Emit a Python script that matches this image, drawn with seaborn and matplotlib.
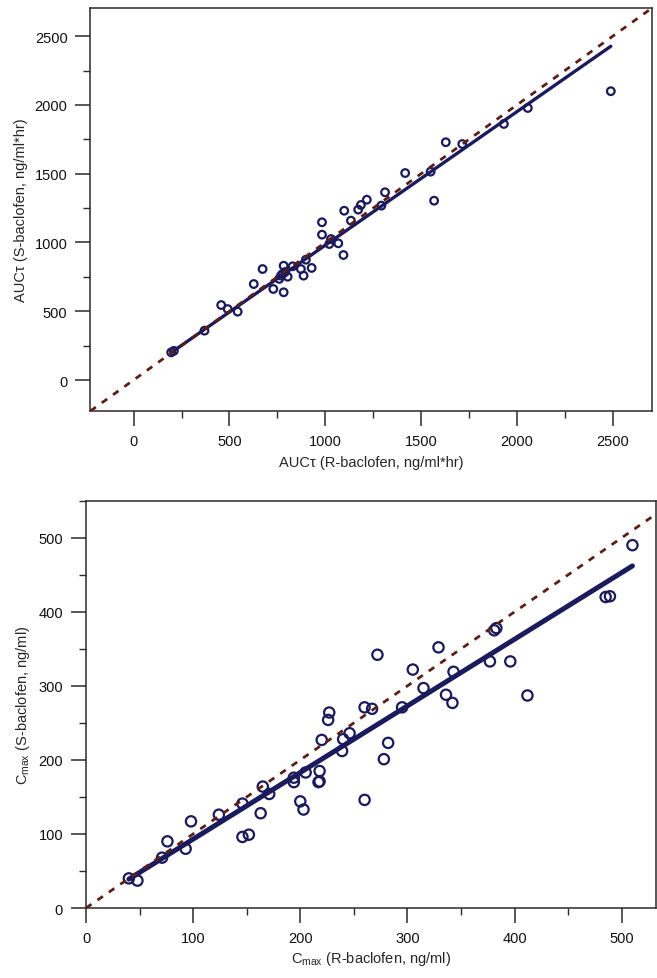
import numpy as np
import pandas as pd
import matplotlib
matplotlib.use("Agg")
import matplotlib.pyplot as plt
import seaborn as sns
from matplotlib.ticker import MultipleLocator

sns.set_theme(style="white")
plt.rcParams["font.family"] = ["Liberation Sans", "DejaVu Sans"]

# AUC over the dosing interval, R- vs S-baclofen (ng/ml*hr)
auc_r = [196, 210, 370, 457, 491, 543, 627, 673, 729, 760, 769, 778, 790,
         783, 804, 830, 873, 887, 899, 929, 783, 983, 983, 1021, 1030, 1068,
         1095, 1099, 1134, 1172, 1186, 1217, 1293, 1312, 1417, 1550, 1568,
         1629, 1715, 1932, 2057, 2490]
auc_s = [201, 212, 359, 545, 516, 497, 698, 807, 662, 735, 759, 772, 785,
         831, 751, 827, 807, 759, 875, 815, 638, 1147, 1057, 989, 1025, 994,
         909, 1231, 1159, 1239, 1273, 1311, 1268, 1365, 1505, 1515, 1304,
         1729, 1716, 1862, 1978, 2100]
# fitted regression line: slope, intercept
auc_fit = (0.971, 9.0)

# Peak concentration, R- vs S-baclofen (ng/ml)
cmax_r = [40, 48, 71, 76, 93, 98, 124, 146, 152, 146, 163, 165, 171, 194,
          194, 205, 200, 203, 217, 218, 218, 220, 226, 227, 239, 240, 246,
          260, 267, 260, 272, 278, 282, 295, 305, 315, 329, 336, 342, 343,
          377, 381, 383, 396, 412, 485, 489, 510]
cmax_s = [40, 37, 68, 90, 80, 117, 126, 96, 99, 141, 128, 164, 154, 170,
          176, 183, 144, 133, 170, 185, 171, 227, 254, 264, 212, 228, 236,
          271, 269, 146, 342, 201, 223, 271, 322, 297, 352, 288, 277, 319,
          333, 375, 378, 333, 287, 420, 421, 490]
cmax_fit = (0.90, 3.0)

auc = pd.DataFrame({"r": auc_r, "s": auc_s})
cmax = pd.DataFrame({"r": cmax_r, "s": cmax_s})

NAVY = "#1b1a5c"
BROWN = "#5c1f18"
FRAME = "#2a2a2a"

fig = plt.figure(figsize=(6.57, 9.79), dpi=100)
ax1 = fig.add_axes([0.1377, 0.5792, 0.8547, 0.4116])
ax2 = fig.add_axes([0.1309, 0.0715, 0.8676, 0.4160])


def draw(ax, data, fit, size, line_w):
    sns.scatterplot(data=data, x="r", y="s", ax=ax, s=size,
                    facecolors="none", edgecolor=NAVY, linewidth=1.6,
                    zorder=3)
    slope, intercept = fit
    span = np.array([data["r"].min(), data["r"].max()])
    sns.lineplot(x=span, y=slope * span + intercept, ax=ax, color=NAVY,
                 lw=line_w, zorder=4)
    ax.axline((0, 0), slope=1, color=BROWN, lw=2.0,
              dashes=(2.4, 2.6), zorder=5)
    for sp in ax.spines.values():
        sp.set_color(FRAME)
        sp.set_linewidth(1.1)
    ax.tick_params(which="both", direction="out", bottom=True, left=True,
                   colors=FRAME, labelcolor="#111111", labelsize=10.5)
    ax.tick_params(which="major", length=10.5, width=1.1, pad=6)
    ax.tick_params(which="minor", length=5, width=1.0)


draw(ax1, auc, auc_fit, 30, 2.4)
ax1.set_xlim(-225, 2705)
ax1.set_ylim(-225, 2705)
ax1.xaxis.set_major_locator(MultipleLocator(500))
ax1.xaxis.set_minor_locator(MultipleLocator(250))
ax1.yaxis.set_major_locator(MultipleLocator(500))
ax1.yaxis.set_minor_locator(MultipleLocator(250))
ax1.set_xlabel("AUCτ (R-baclofen, ng/ml*hr)", fontsize=10.5, labelpad=5)
ax1.set_ylabel("AUCτ (S-baclofen, ng/ml*hr)", fontsize=10.5, labelpad=5)

draw(ax2, cmax, cmax_fit, 55, 3.6)
ax2.set_xlim(0, 532)
ax2.set_ylim(0, 550)
ax2.xaxis.set_major_locator(MultipleLocator(100))
ax2.xaxis.set_minor_locator(MultipleLocator(50))
ax2.yaxis.set_major_locator(MultipleLocator(100))
ax2.yaxis.set_minor_locator(MultipleLocator(50))
ax2.set_xlabel(r"C$_{\mathregular{max}}$ (R-baclofen, ng/ml)", fontsize=10.5,
               labelpad=3)
ax2.set_ylabel(r"C$_{\mathregular{max}}$ (S-baclofen, ng/ml)", fontsize=10.5,
               labelpad=5)

fig.savefig("out.png", dpi=100, facecolor="white")
